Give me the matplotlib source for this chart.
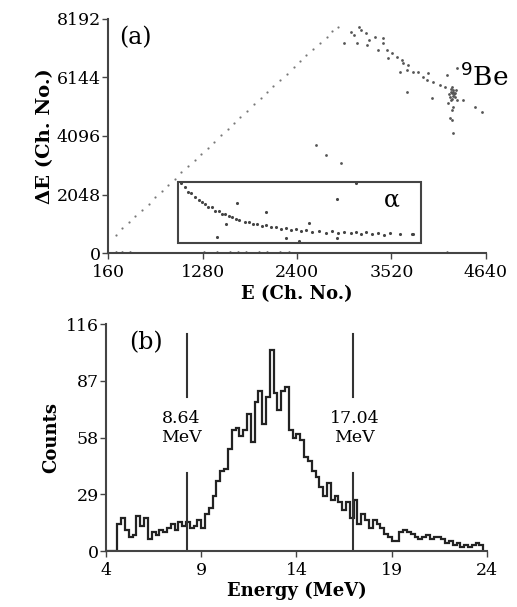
import numpy as np
import matplotlib
matplotlib.use("Agg")
import matplotlib.pyplot as plt
from matplotlib.patches import Rectangle

plt.rcParams['font.family'] = ['DejaVu Serif']

# ---- panel (a): dE-E scatter (channel numbers) ----
line_E = [250, 330, 410, 480, 560, 640, 720, 800, 870, 950, 1030, 1110, 1190, 1260,
          1340, 1420, 1500, 1580, 1650, 1730, 1810, 1890, 1970, 2040, 2120, 2200,
          2280, 2360, 2430, 2510, 2590, 2670, 2750, 2820, 2880]
line_dE = [650, 870, 1090, 1290, 1510, 1730, 1960, 2180, 2370, 2600, 2820, 3040, 3260,
           3460, 3680, 3900, 4120, 4340, 4540, 4760, 4980, 5200, 5420, 5620, 5840,
           6060, 6280, 6500, 6700, 6920, 7140, 7360, 7570, 7760, 7920]

be_E = [3045, 3140, 3164, 3080, 2961, 3223, 3259, 3319, 3414, 3414, 3116, 3235, 3355,
        3462, 3521, 3581, 3474, 3641, 3653, 3712, 3617, 3700, 3772, 3831, 3891, 3951,
        3700, 3939, 4010, 4094, 4153, 4237, 4237, 4249, 4213, 4272, 4296, 4189, 4249,
        4237, 4213, 4237, 4249, 4368, 4511, 4594, 3998, 4296, 4177, 2627, 2746, 2925,
        4230, 4250, 4260, 4220, 4245, 4270, 4200, 4280, 4240, 4225]
be_dE = [7735, 7910, 7805, 7630, 7350, 7700, 7455, 7560, 7525, 7350, 7350, 7280, 7105,
         7105, 7000, 6860, 6825, 6755, 6650, 6580, 6335, 6405, 6335, 6335, 6160, 6300,
         5635, 6055, 5985, 5880, 5810, 5810, 5600, 5705, 5460, 5460, 5355, 5250, 5110,
         5005, 4725, 4655, 4200, 5355, 5110, 4935, 5425, 6475, 6230, 3780, 3430, 3150,
         5750, 5650, 5550, 5650, 5500, 5600, 5550, 5700, 5400, 5350]

alpha_E = [1030, 1078, 1149, 1233, 1304, 1388, 1471, 1543, 1626, 1710, 1829, 1924, 2031,
           2150, 2270, 2389, 2508, 2663, 2818, 2961, 3104, 3223, 3355, 3498, 3617, 3772,
           1110, 1190, 1270, 1350, 1430, 1510, 1590, 1680, 1780, 1880, 1980, 2090, 2210,
           2330, 2450, 2580, 2740, 2890, 3040, 3160, 3290, 3430,
           1686, 2031, 2544, 2878, 3104, 1447, 2270, 2425, 2878, 3760, 1555]
alpha_dE = [2450, 2310, 2100, 1855, 1715, 1610, 1470, 1365, 1260, 1155, 1085, 1015, 980,
            910, 875, 840, 805, 770, 770, 735, 735, 735, 700, 700, 665, 665,
            2150, 1950, 1780, 1620, 1480, 1380, 1290, 1190, 1100, 1020, 950, 900, 850,
            800, 770, 740, 720, 700, 690, 680, 660, 650,
            1750, 1435, 1050, 1890, 2450, 560, 525, 420, 525, 665, 1015]

floor_E = [250, 330, 420, 1300, 1450, 1600, 1700, 1800, 1950, 2050, 2200, 2300, 4177]
floor_dE = [40, 40, 40, 40, 40, 40, 40, 40, 40, 40, 40, 40, 40]

xticks_a = [160, 1280, 2400, 3520, 4640]
yticks_a = [0, 2048, 4096, 6144, 8192]

# ---- panel (b): energy spectrum, 0.2 MeV bins from 4 MeV ----
bin_start = 4.0
bin_width = 0.2
counts = [0, 0, 0, 14, 17, 11, 7, 8, 18, 13, 17, 6, 10, 8, 11, 10, 12, 14, 11, 15,
          13, 15, 12, 13, 16, 12, 19, 22, 28, 36, 41, 42, 52, 62, 63, 59, 62, 70, 56, 76,
          82, 65, 79, 103, 81, 72, 82, 84, 62, 58, 60, 57, 48, 46, 41, 38, 33, 28, 35, 26,
          28, 25, 21, 25, 17, 26, 14, 19, 16, 12, 16, 14, 12, 9, 7, 5, 5, 10, 11, 10,
          9, 7, 6, 7, 8, 6, 7, 7, 6, 4, 5, 3, 4, 2, 3, 2, 3, 4, 3]
xticks_b = [4, 9, 14, 19, 24]
yticks_b = [0, 29, 58, 87, 116]
marker_E = [8.26, 16.95]
marker_txt = ['8.64\nMeV', '17.04\nMeV']

spine_c = '#444444'
pt_c = '#555555'

fig = plt.figure(figsize=(5.17, 6.07), dpi=100)

# panel (a)
ax1 = fig.add_axes([0.209, 0.583, 0.731, 0.386])
ax1.scatter(line_E, line_dE, s=2.5, color='#777777', lw=0)
ax1.scatter(be_E, be_dE, s=4, color=pt_c, lw=0)
ax1.scatter(alpha_E, alpha_dE, s=5, color='#444444', lw=0)
ax1.scatter(floor_E, floor_dE, s=3, color=pt_c, lw=0, clip_on=False)
ax1.add_patch(Rectangle((990, 350), 2880, 2140, fill=False, ec=spine_c, lw=1.5))
ax1.set_xlim(160, 4640)
ax1.set_ylim(0, 8192)
ax1.set_xticks(xticks_a)
ax1.set_yticks(yticks_a)
ax1.set_xlabel('E (Ch. No.)', fontsize=13, fontweight='bold', labelpad=3)
ax1.set_ylabel('ΔE (Ch. No.)', fontsize=14, fontweight='bold', labelpad=2)
ax1.text(0.03, 0.97, '(a)', transform=ax1.transAxes, fontsize=17, va='top')
ax1.text(4330, 6150, '$^{9}$Be', fontsize=19, va='center', ha='left')
ax1.text(3520, 1850, 'α', fontsize=17, va='center', ha='center')

# panel (b)
ax2 = fig.add_axes([0.205, 0.092, 0.737, 0.374])
edges = bin_start + bin_width * np.arange(len(counts) + 1)
ax2.stairs(counts, edges, color='#222222', lw=1.6)
for e, txt in zip(marker_E, marker_txt):
    ax2.plot([e, e], [0, 40], color='#333333', lw=1.5)
    ax2.plot([e, e], [79, 111], color='#333333', lw=1.5)
    ax2.text(e - 0.3 if e < 10 else e + 0.1, 63, txt, fontsize=12.5,
             ha='center', va='center', linespacing=1.2)
ax2.set_xlim(4, 24)
ax2.set_ylim(0, 116)
ax2.set_xticks(xticks_b)
ax2.set_yticks(yticks_b)
ax2.set_xlabel('Energy (MeV)', fontsize=13, fontweight='bold', labelpad=2)
ax2.set_ylabel('Counts', fontsize=13, fontweight='bold', labelpad=4)
ax2.text(0.06, 0.97, '(b)', transform=ax2.transAxes, fontsize=17, va='top')

for ax in (ax1, ax2):
    ax.spines['top'].set_visible(False)
    ax.spines['right'].set_visible(False)
    for s in ('left', 'bottom'):
        ax.spines[s].set_color(spine_c)
        ax.spines[s].set_linewidth(1.5)
    ax.tick_params(direction='out', length=4, width=1, color=spine_c,
                   labelsize=12.5)
    ax.tick_params(axis='y', pad=1)
    ax.tick_params(axis='x', pad=4)

fig.savefig('out.png', dpi=100)
